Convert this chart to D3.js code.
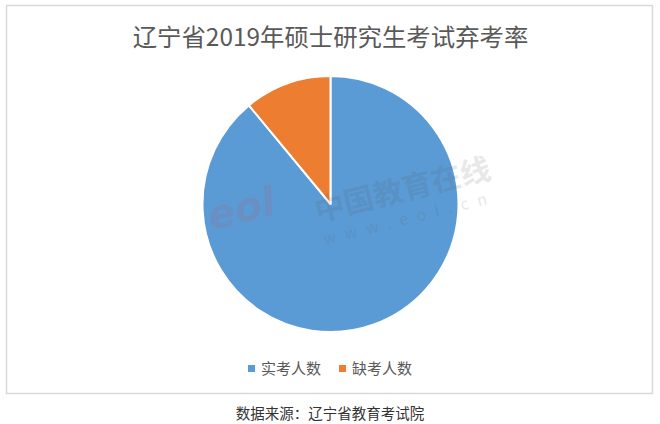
<!DOCTYPE html>
<html><head><meta charset="utf-8">
<script src="https://cdn.jsdelivr.net/npm/d3@7"></script>
<style>html,body{margin:0;padding:0;background:#fff;}svg{display:block;}</style>
</head><body>
<script>
const categories = ["实考人数", "缺考人数"];
const values = [89.0, 11.0];
const colors = ["#5B9BD5", "#ED7D31"];
const titleText = "辽宁省2019年硕士研究生考试弃考率";
const sourceText = "数据来源：辽宁省教育考试院";

const W = 660, H = 424;
const font = "'Noto Sans CJK SC','Noto Sans',sans-serif";
const svg = d3.select("body").append("svg").attr("width", W).attr("height", H);
svg.append("rect").attr("width", W).attr("height", H).attr("fill", "#fff");
svg.append("rect").attr("x", 6.5).attr("y", 5.5).attr("width", 646).attr("height", 388)
  .attr("fill", "none").attr("stroke", "#d9d9d9").attr("stroke-width", 1.5);

svg.append("text").attr("x", 330.5).attr("y", 46).attr("text-anchor", "middle")
  .attr("font-family", font).attr("font-size", 24.4).attr("fill", "#595959").text(titleText);

const cx = 330.5, cy = 204, r = 128;
const pie = d3.pie().sort(null).value(d => d)(values);
const arc = d3.arc().innerRadius(0).outerRadius(r);
const g = svg.append("g").attr("transform", `translate(${cx},${cy})`);
g.selectAll("path").data(pie).join("path")
  .attr("d", arc).attr("fill", (d, i) => colors[i])
  .attr("stroke", "#fff").attr("stroke-width", 2).attr("stroke-linejoin", "round");

// watermark
const wm = svg.append("g").attr("transform", "translate(405,200) rotate(-14)").attr("opacity", 0.13);
wm.append("text").attr("x", 0).attr("y", 0).attr("text-anchor", "middle")
  .attr("font-family", font).attr("font-size", 30).attr("font-weight", "bold").attr("fill", "#555").text("中国教育在线");
wm.append("text").attr("x", 0).attr("y", 24).attr("text-anchor", "middle")
  .attr("font-family", font).attr("font-size", 16).attr("letter-spacing", 9).attr("fill", "#555").text("www.eol.cn");
svg.append("text").attr("transform", "translate(245,222) rotate(-14)").attr("text-anchor", "middle")
  .attr("font-family", "'DejaVu Sans',sans-serif").attr("font-size", 40).attr("font-weight", "bold").attr("font-style", "italic")
  .attr("fill", "#e03030").attr("opacity", 0.1).text("eol");

// legend
const legendX = [248, 339];
const lg = svg.append("g");
categories.forEach((c, i) => {
  lg.append("rect").attr("x", legendX[i]).attr("y", 365).attr("width", 7).attr("height", 7).attr("fill", colors[i]);
  lg.append("text").attr("x", legendX[i] + 13).attr("y", 374).attr("font-family", font).attr("font-size", 15)
    .attr("fill", "#595959").text(c);
});

svg.append("text").attr("x", 330).attr("y", 419).attr("text-anchor", "middle")
  .attr("font-family", font).attr("font-size", 14.5).attr("fill", "#333").text(sourceText);
</script>
</body></html>
